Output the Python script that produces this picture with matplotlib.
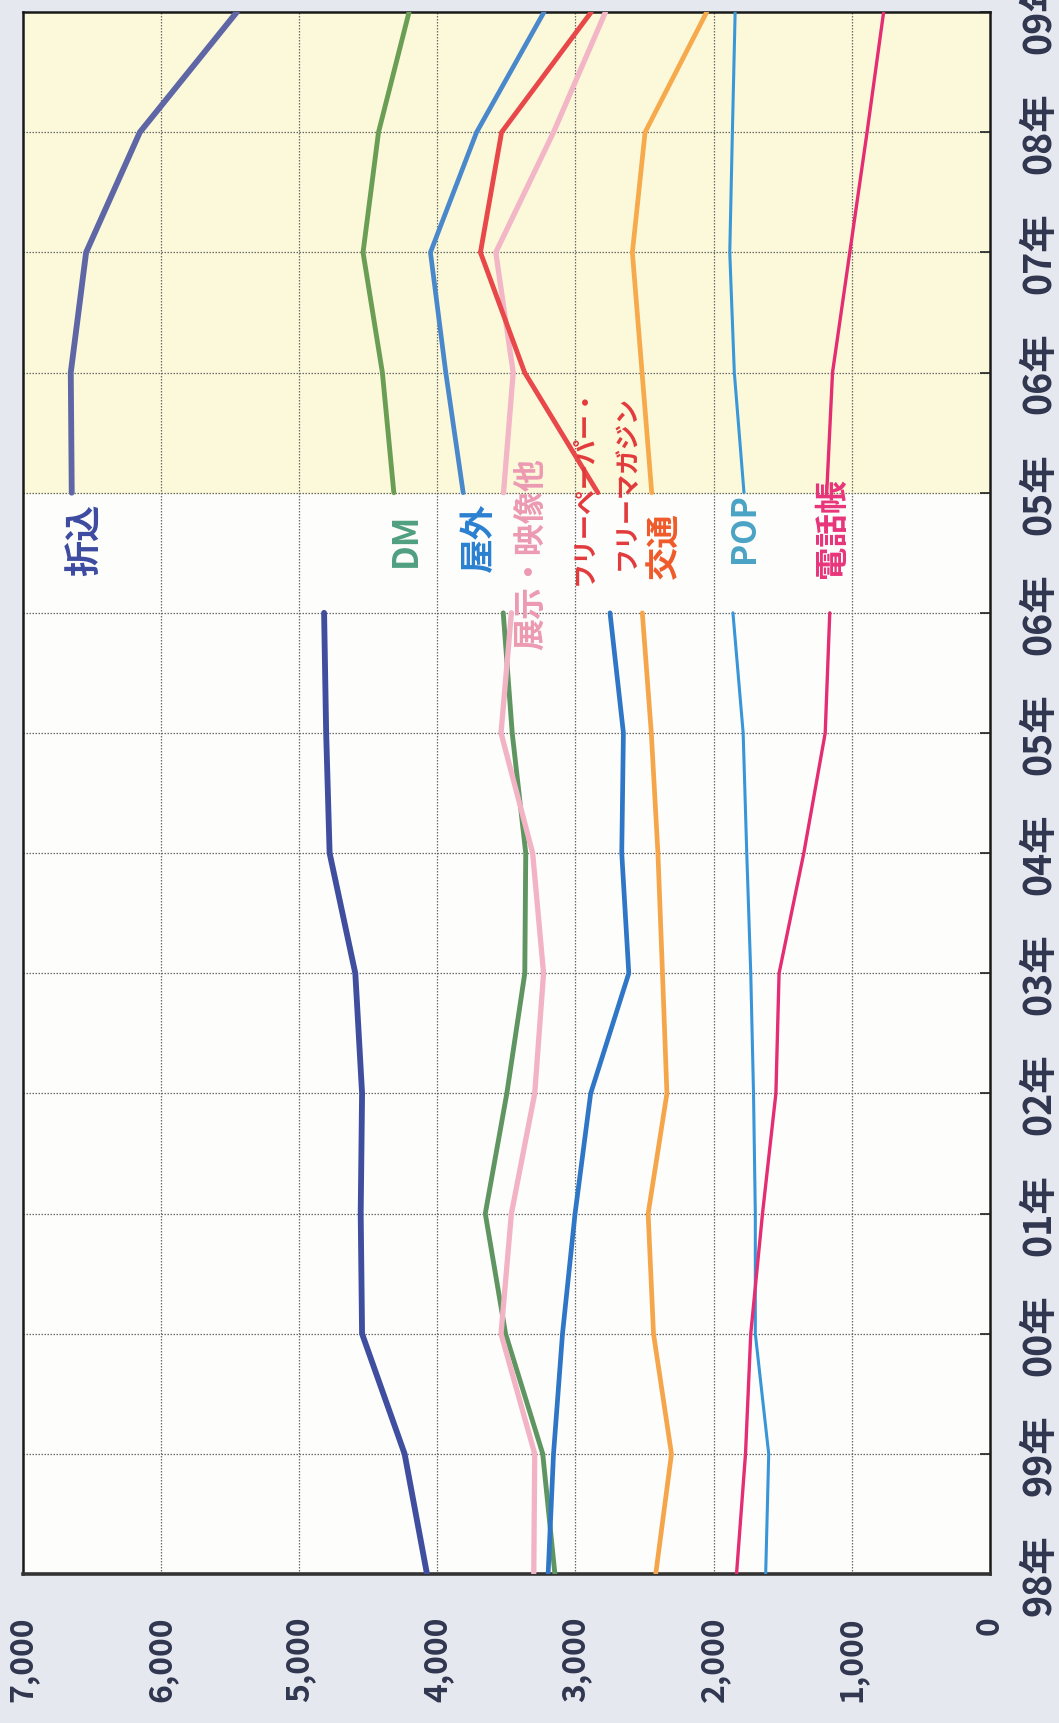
import numpy as np
import matplotlib
matplotlib.use("Agg")
import matplotlib.pyplot as plt

plt.rcParams['font.family'] = ['Noto Sans CJK JP', 'DejaVu Sans']

# 年ラベル(旧基準 98-06年 / 新基準 05-09年)
year_labels = ['98年', '99年', '00年', '01年', '02年', '03年', '04年', '05年', '06年',
               '05年', '06年', '07年', '08年', '09年']
value_ticks = [0, 1000, 2000, 3000, 4000, 5000, 6000, 7000]
value_labels = ['0', '1,000', '2,000', '3,000', '4,000', '5,000', '6,000', '7,000']

# 旧基準 (98年〜06年)
orikomi_old = [4075, 4237, 4545, 4555, 4545, 4594, 4780, 4805, 4820]
dm_old = [3149, 3237, 3506, 3653, 3497, 3367, 3360, 3458, 3523]
okugai_old = [3198, 3159, 3094, 3003, 2890, 2614, 2665, 2653, 2750]
tenji_old = [3302, 3295, 3539, 3464, 3295, 3231, 3310, 3539, 3464]
kotsu_old = [2419, 2305, 2435, 2474, 2338, 2370, 2403, 2451, 2516]
pop_old = [1623, 1601, 1698, 1698, 1711, 1731, 1760, 1786, 1860]
denwa_old = [1834, 1769, 1731, 1646, 1549, 1526, 1347, 1192, 1159]

# 新基準 (05年〜09年)
orikomi_new = [6647, 6654, 6543, 6154, 5452]
dm_new = [4315, 4398, 4538, 4426, 4205]
okugai_new = [3813, 3939, 4050, 3716, 3228]
tenji_new = [3521, 3451, 3577, 3159, 2783]
free_new = [2838, 3368, 3688, 3535, 2886]
kotsu_new = [2448, 2518, 2588, 2496, 2050]
pop_new = [1780, 1850, 1883, 1864, 1844]
denwa_new = [1181, 1139, 1014, 889, 769]

fig = plt.figure(figsize=(10.59, 17.24), dpi=100, facecolor="#e6e8f0")
ax = fig.add_axes([0.0217, 0.0864, 0.913, 0.906])
ax.set_facecolor("#fdfdfb")

pos_old = np.arange(9)
pos_new = np.arange(9, 14)

# 新基準部分の黄色い背景
ax.axhspan(9, 13, color="#fbf9da", zorder=0)

# 線 (値が横軸、年が縦軸 = 90度回転した折れ線グラフ)
series = [
    (orikomi_old, orikomi_new, "#3f4e9f", "#5f66a6", 4.2),
    (dm_old, dm_new, "#5f9560", "#6b9e55", 3.5),
    (okugai_old, okugai_new, "#2f76c6", "#4a88cc", 3.4),
    (tenji_old, tenji_new, "#f2b3c4", "#f2b6c6", 3.8),
    (None, free_new, None, "#e8484a", 3.5),
    (kotsu_old, kotsu_new, "#f6a64a", "#f6aa4c", 3.4),
    (pop_old, pop_new, "#3896d8", "#3a98d8", 2.2),
    (denwa_old, denwa_new, "#e42d72", "#e42d72", 2.4),
]
for old, new, c_old, c_new, lw in series:
    if old is not None:
        ax.plot(old, pos_old, color=c_old, lw=lw, solid_capstyle="round",
                solid_joinstyle="round", zorder=3)
    ax.plot(new, pos_new, color=c_new, lw=lw, solid_capstyle="round",
            solid_joinstyle="round", zorder=3)

# 系列名ラベル
names = [
    ("折込", 6551, 8.92, "#3c4ba0", 26),
    ("DM", 4235, 8.84, "#4f9f80", 25),
    ("屋外", 3706, 8.93, "#2a80d0", 25),
    ("展示・映像他", 3320, 9.30, "#ec9ab2", 23),
    ("フリーペーパー・", 2932, 9.90, "#e23a3c", 18),
    ("フリーマガジン", 2628, 9.82, "#e23a3c", 18),
    ("交通", 2353, 8.84, "#f05a2a", 24),
    ("POP", 1774, 9.00, "#4aa3c5", 24),
    ("電話帳", 1137, 9.13, "#e8347a", 24),
]
for txt, xv, yv, col, fs in names:
    ax.text(xv, yv, txt, rotation=90, ha="center", va="top", color=col,
            fontsize=fs, fontweight="bold", zorder=4)

ax.set_xlim(7000, 0)
ax.set_ylim(0, 13)

# グリッド
for v in range(1000, 7000, 1000):
    ax.axvline(v, color="#6a6a6a", lw=0.9, ls=(0, (1.2, 1.2)), zorder=1)
for p in range(1, 13):
    ax.axhline(p, color="#6a6a6a", lw=0.9, ls=(0, (1.2, 1.2)), zorder=1)

ax.set_xticks(value_ticks)
ax.set_xticklabels(value_labels, rotation=90, fontsize=23, fontweight="bold",
                   color="#30364f")
ax.tick_params(axis="x", length=0, pad=30)

ax.set_yticks(np.arange(14))
ax.set_yticklabels(year_labels, rotation=90, va="center", fontsize=27,
                   fontweight="bold", color="#30364f")
ax.yaxis.tick_right()
ax.tick_params(axis="y", direction="in", length=7, width=1.2, pad=21,
               color="#222222")

for side in ["left", "top", "right"]:
    ax.spines[side].set_linewidth(1.8)
    ax.spines[side].set_color("#1a1a1a")
ax.spines["bottom"].set_linewidth(2.6)
ax.spines["bottom"].set_color("#333333")

plt.savefig("out.png", dpi=100, facecolor=fig.get_facecolor())
